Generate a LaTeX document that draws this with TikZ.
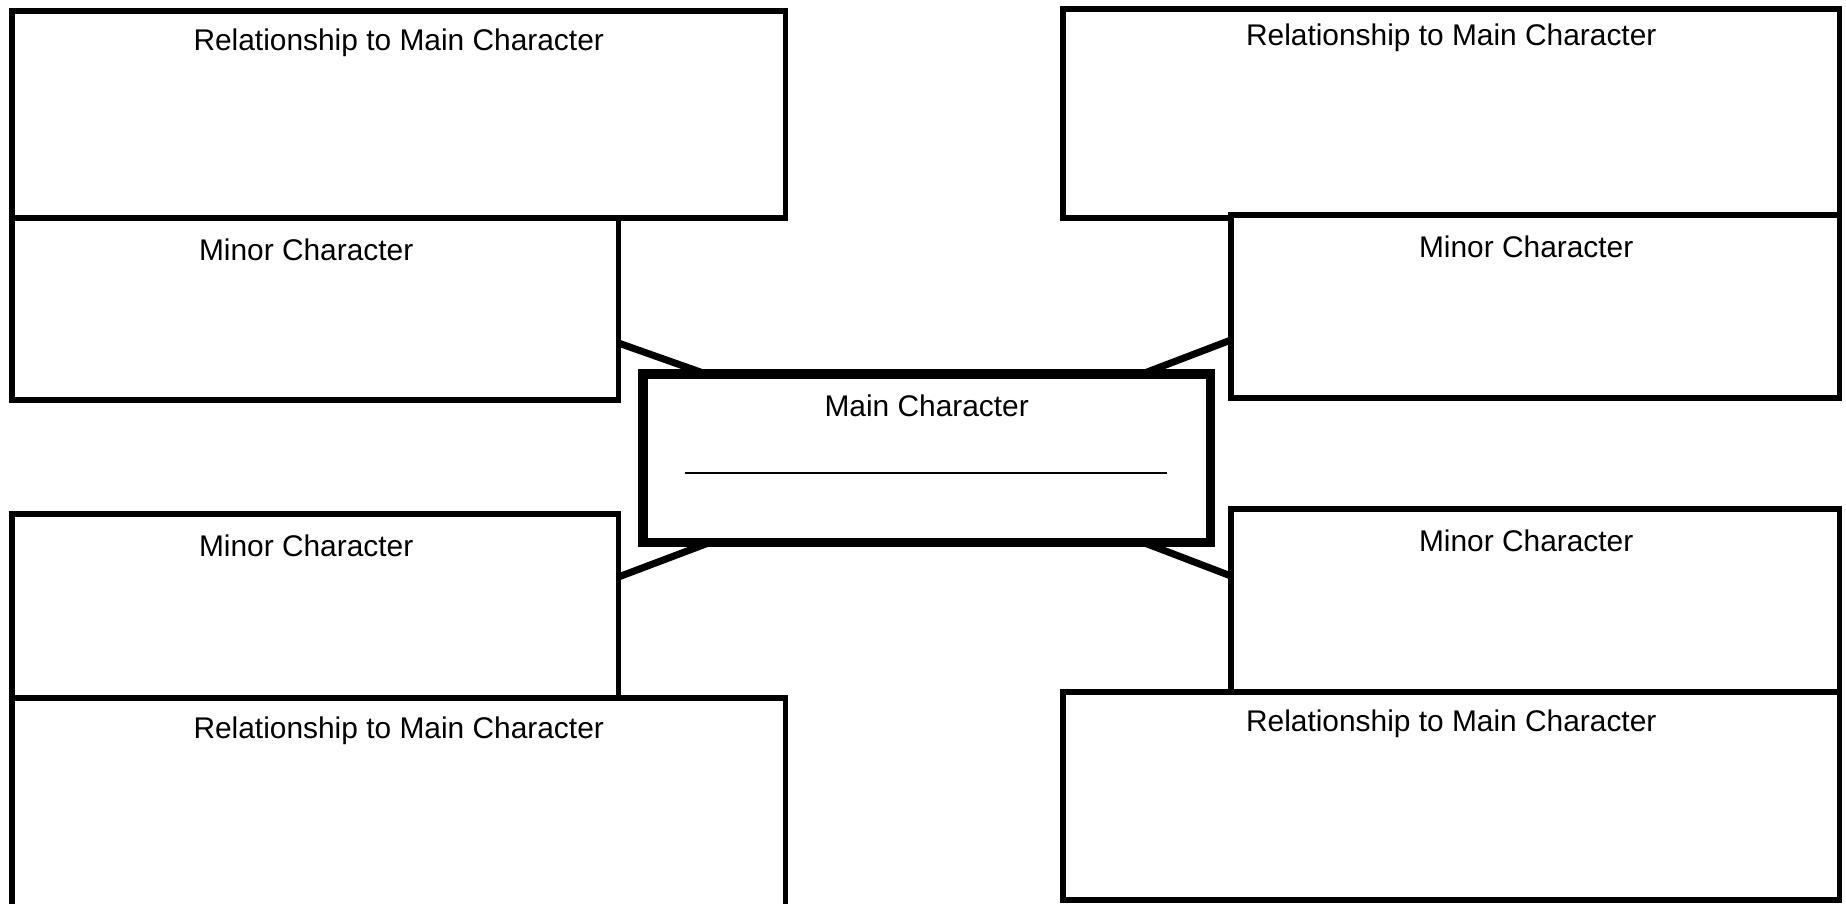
\documentclass[tikz,border=0pt]{standalone}
\usepackage{fontspec}
\setmainfont{Liberation Sans}
\usetikzlibrary{positioning}

\tikzset{
  box/.style={draw, fill=white, line width=1.6pt, rectangle, anchor=north west,
    outer sep=0pt, inner sep=0pt},
  mainbox/.style={box, line width=2.6pt},
  title/.style={inner sep=0pt, font=\fontsize{8.5}{10}\selectfont},
  link/.style={line width=2pt}
}

\begin{document}
\begin{tikzpicture}[x=0.01cm, y=-0.01cm]
  \useasboundingbox (0,0) rectangle (1846,903);

  % boxes of the left side
  \node (tlrel) [box, minimum width=7.73cm, minimum height=2.07cm] at (12,11) {};
  \node (tlmin) [box, minimum width=6.06cm, minimum height=1.82cm] at (12,218) {};
  \node (blmin) [box, minimum width=6.06cm, minimum height=1.84cm] at (12,514) {};
  \node (blrel) [box, minimum width=7.73cm, minimum height=2.10cm] at (12,698) {};

  % boxes of the right side
  \node (trrel) [box, minimum width=7.76cm, minimum height=2.09cm] at (1063,9) {};
  \node (trmin) [box, minimum width=6.08cm, minimum height=1.83cm] at (1231,215) {};
  \node (brmin) [box, minimum width=6.08cm, minimum height=1.83cm] at (1231,509) {};
  \node (brrel) [box, minimum width=7.76cm, minimum height=2.08cm] at (1063,692) {};

  % links to the main box
  \path (tlmin.north east) +(0,125) coordinate (tlo);
  \path (trmin.north west) +(0,125) coordinate (tro);
  \path (blmin.north east) +(0,63) coordinate (blo);
  \path (brmin.north west) +(0,67) coordinate (bro);
  \path (643,374) +(63,0) coordinate (mtl);
  \path (1210,374) +(-68,0) coordinate (mtr);
  \path (643,542) +(68,0) coordinate (mbl);
  \path (1210,542) +(-68,0) coordinate (mbr);
  \draw[link] (tlo) -- (mtl);
  \draw[link] (tro) -- (mtr);
  \draw[link] (blo) -- (mbl);
  \draw[link] (bro) -- (mbr);

  \node (main) [mainbox, minimum width=5.67cm, minimum height=1.68cm] at (643,374) {};
  \path (main.south west) +(42,-69) coordinate (mla);
  \path (main.south east) +(-43,-69) coordinate (mlb);
  \draw[line width=0.7pt] (mla) -- (mlb);

  % titles
  \node (tlreltxt) [title, below=0.17cm of tlrel.north] {Relationship to Main Character};
  \node (tlmintxt) [title, below=0.20cm of tlmin.north, xshift=-0.09cm] {Minor Character};
  \node (blmintxt) [title, below=0.20cm of blmin.north, xshift=-0.09cm] {Minor Character};
  \node (blreltxt) [title, below=0.18cm of blrel.north] {Relationship to Main Character};
  \node (trreltxt) [title, below=0.14cm of trrel.north] {Relationship to Main Character};
  \node (trmintxt) [title, below=0.20cm of trmin.north, xshift=-0.09cm] {Minor Character};
  \node (brmintxt) [title, below=0.20cm of brmin.north, xshift=-0.09cm] {Minor Character};
  \node (brreltxt) [title, below=0.17cm of brrel.north] {Relationship to Main Character};
  \node (maintxt) [title, below=0.20cm of main.north] {Main Character};
\end{tikzpicture}
\end{document}
